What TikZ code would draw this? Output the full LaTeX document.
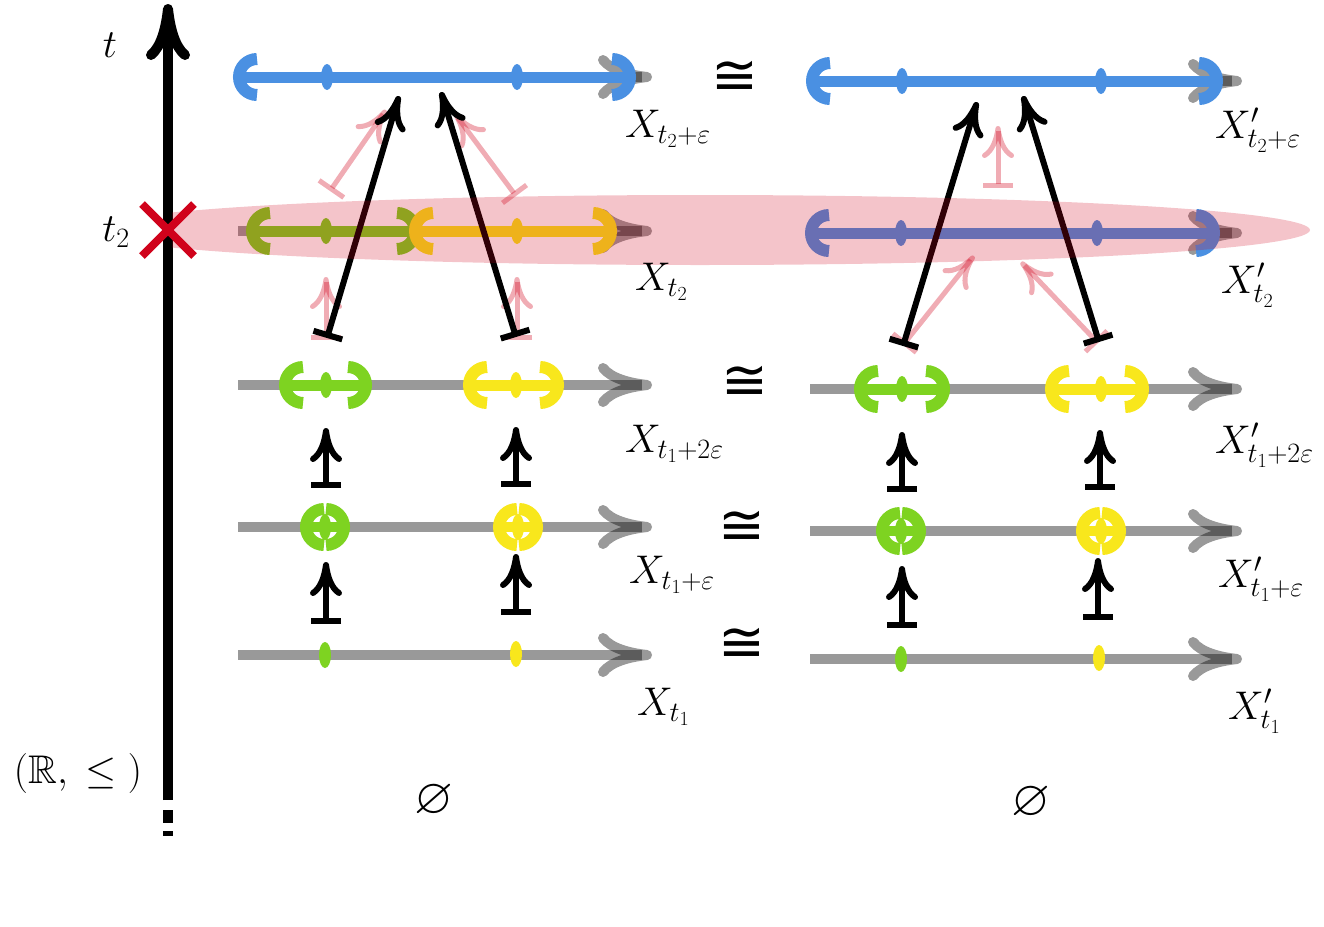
\RequirePackage{fix-cm}
\documentclass[tikz,border=0pt]{standalone}
\usepackage{amssymb}
\usepackage{fontspec}
\newfontfamily\congfont{DejaVu Sans}
\usetikzlibrary{arrows.meta}
\definecolor{cblue}{HTML}{4A90E2}
\definecolor{cgreen}{HTML}{7ED321}
\definecolor{cyellow}{HTML}{F8E71C}
\definecolor{cred}{HTML}{D0021B}
% interval: colour, y, left bracket centre, right bracket centre
\newcommand\ivl[4]{%
  \draw[line width=11pt,#1] (#3-18,#2) -- (#4+18,#2);
  \draw[line width=12pt,#1] (#3,#2) ++(90:18) arc[start angle=90,end angle=270,radius=18];
  \draw[line width=12pt,#1] (#4,#2) ++(-90:18) arc[start angle=-90,end angle=90,radius=18];}
\newcommand\dotpt[3]{\fill[#1] (#2,#3) ellipse[x radius=6,y radius=13];}
\newcommand\ringpt[3]{%
  \draw[line width=12pt,#1] (#2-1,#3) ++(90:18) arc[start angle=90,end angle=270,radius=18];
  \draw[line width=12pt,#1] (#2+1,#3) ++(-90:18) arc[start angle=-90,end angle=90,radius=18];
  \draw[line width=10pt,#1] (#2-20,#3) -- (#2+20,#3);
  \fill[#1] (#2,#3) ellipse[x radius=6,y radius=13];}
\begin{document}
\begin{tikzpicture}[x=1pt,y=-1pt,
  rowline/.style={draw=black,draw opacity=0.4,line width=10pt,
    -{Computer Modern Rightarrow[length=54pt,width=44pt]}},
  maparrow/.style={draw=black,line width=6pt,
    {Bar[width=30pt]}-{Computer Modern Rightarrow[length=34pt,width=32pt]}},
  pinkarrow/.style={draw=cred,draw opacity=0.33,line width=5pt,
    {Bar[width=30pt]}-{Computer Modern Rightarrow[length=32pt,width=32pt]}},
  lbl/.style={inner sep=0pt,font=\fontsize{40}{48}\selectfont},
  xlbl/.style={lbl,anchor=base west},
  isolbl/.style={inner sep=0pt,font=\congfont\fontsize{56}{64}\selectfont},
  emptylbl/.style={inner sep=0pt,font=\fontsize{50}{60}\selectfont}]
\useasboundingbox (0,0) rectangle (1324,926);

% time axis
\coordinate (axb) at (168,800);
\coordinate (axt) at (168,4);
\draw[line width=10pt,-{Computer Modern Rightarrow[length=56pt,width=44pt]}] (axb) -- (axt);
\fill (163,810) rectangle (173,823);
\fill (163,831) rectangle (173,836);

% grey rows, left
\foreach \y in {77,231,385,527,655} {\draw[rowline] (238,\y) -- (652,\y);}
% grey rows, right
\foreach \y in {81,233,389,531,659} {\draw[rowline] (810,\y) -- (1242,\y);}

% row t2+eps
\ivl{cblue}{77}{257}{612}
\dotpt{cblue}{327}{77}\dotpt{cblue}{517}{77}
\ivl{cblue}{81}{830}{1199}
\dotpt{cblue}{902}{81}\dotpt{cblue}{1101}{81}

% row t2
\ivl{cgreen}{231}{270}{397}
\dotpt{cgreen}{326}{231}
\ivl{cyellow}{231}{433}{593}
\dotpt{cyellow}{517}{231}
\ivl{cblue}{233}{829}{1196}
\dotpt{cblue}{901}{233}\dotpt{cblue}{1097}{233}

% row t1+2eps
\ivl{cgreen}{385}{303}{348}
\dotpt{cgreen}{326}{385}
\ivl{cyellow}{385}{487}{540}
\dotpt{cyellow}{516}{385}
\ivl{cgreen}{389}{878}{926}
\dotpt{cgreen}{902}{389}
\ivl{cyellow}{389}{1069}{1125}
\dotpt{cyellow}{1101}{389}

% row t1+eps
\ringpt{cgreen}{325}{527}
\ringpt{cyellow}{518}{527}
\ringpt{cgreen}{901}{531}
\ringpt{cyellow}{1101}{531}

% row t1
\dotpt{cgreen}{325}{655}\dotpt{cyellow}{516}{654}
\dotpt{cgreen}{901}{659}\dotpt{cyellow}{1099}{658}

% arrow end points
\coordinate (v1s) at (326,488); \coordinate (v1e) at (326,428);
\coordinate (v2s) at (516,487); \coordinate (v2e) at (516,427);
\coordinate (v3s) at (326,624); \coordinate (v3e) at (326,562);
\coordinate (v4s) at (516,615); \coordinate (v4e) at (516,554);
\coordinate (v5s) at (902,492); \coordinate (v5e) at (902,432);
\coordinate (v6s) at (1100,490); \coordinate (v6e) at (1100,430);
\coordinate (v7s) at (902,628); \coordinate (v7e) at (902,566);
\coordinate (v8s) at (1098,620); \coordinate (v8e) at (1098,558);
\coordinate (b1s) at (327,338); \coordinate (b1e) at (399,96);
\coordinate (b2s) at (516,337); \coordinate (b2e) at (441,92);
\coordinate (b3s) at (903,346); \coordinate (b3e) at (977,102);
\coordinate (b4s) at (1099,342); \coordinate (b4e) at (1023,96);
\coordinate (p1s) at (330,191); \coordinate (p1e) at (386,110);
\coordinate (p2s) at (516,196); \coordinate (p2e) at (455,114);
\coordinate (p3s) at (326,340); \coordinate (p3e) at (326,277);
\coordinate (p4s) at (517,340); \coordinate (p4e) at (517,277);
\coordinate (p5s) at (998,188); \coordinate (p5e) at (998,126);
\coordinate (p6s) at (903,345); \coordinate (p6e) at (974,256);
\coordinate (p7s) at (1098,343); \coordinate (p7e) at (1021,262);

% vertical maps
\foreach \a in {1,...,8} {\draw[maparrow] (v\a s) -- (v\a e);}
% pink maps
\foreach \a in {1,...,7} {\draw[pinkarrow] (p\a s) -- (p\a e);}
% slanted black maps
\foreach \a in {1,...,4} {\draw[maparrow] (b\a s) -- (b\a e);}

% highlighted slice t2
\begin{scope}
  \clip (172,0) rectangle (1324,926);
  \fill[cred,opacity=0.23] (700,230) ellipse[x radius=610,y radius=35];
\end{scope}

% red cross at t2
\coordinate (xa) at (142,204); \coordinate (xb) at (194,256);
\coordinate (xc) at (142,256); \coordinate (xd) at (194,204);
\draw[cred,line width=8pt] (xa) -- (xb);
\draw[cred,line width=8pt] (xc) -- (xd);

% labels
\node[lbl] (tl) at (110,45) {$t$};
\node[lbl] (t2l) at (116,232) {$t_2$};
\node[lbl] (rl) at (78,773) {$(\mathbb{R},\;\leq\;)$};

\node[xlbl] (la) at (625,137) {$X_{t_2+\varepsilon}$};
\node[xlbl] (lb) at (635,290) {$X_{t_2}$};
\node[xlbl] (lc) at (625,452) {$X_{t_1+2\varepsilon}$};
\node[xlbl] (ld) at (629,583) {$X_{t_1+\varepsilon}$};
\node[xlbl] (le) at (637,715) {$X_{t_1}$};
\node[xlbl] (ra) at (1215,138) {$X'_{t_2+\varepsilon}$};
\node[xlbl] (rb) at (1221,293) {$X'_{t_2}$};
\node[xlbl] (rc) at (1215,453) {$X'_{t_1+2\varepsilon}$};
\node[xlbl] (rd) at (1218,587) {$X'_{t_1+\varepsilon}$};
\node[xlbl] (re) at (1228,719) {$X'_{t_1}$};

\node[isolbl] (c1) at (735,78) {≅};
\node[isolbl] (c2) at (745,383) {≅};
\node[isolbl] (c3) at (742,528) {≅};
\node[isolbl] (c4) at (742,645) {≅};

\node[emptylbl] (e1) at (434,801) {$\varnothing$};
\node[emptylbl] (e2) at (1031,803) {$\varnothing$};
\end{tikzpicture}
\end{document}
